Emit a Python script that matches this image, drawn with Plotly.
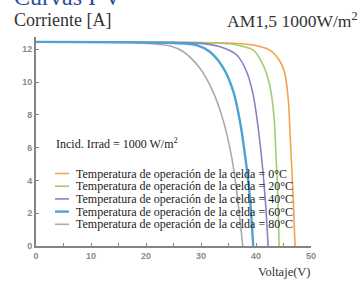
import plotly.graph_objects as go

# ---- data ----
temps = ["0°C", "20°C", "40°C", "60°C", "80°C"]
colors = ["#f3a24f", "#9fcf6e", "#8b80c4", "#4ba3d6", "#ababab"]
widths = [1.6, 1.6, 1.6, 2.4, 1.6]

v_0 = [0, 20, 35, 39.5, 42.5, 44.4, 45.3, 45.9, 46.2, 46.5, 46.8, 47.1]
i_0 = [12.45, 12.43, 12.38, 12.26, 11.95, 11.24, 10.43, 8.8, 6.77, 4.76, 2.7, 0]

v_20 = [0, 20, 33, 36.5, 39.5, 41.3, 42.5, 43.3, 43.6, 43.9, 44.2]
i_20 = [12.45, 12.43, 12.38, 12.26, 11.95, 11.04, 9.8, 7.8, 5.75, 3.7, 0]

v_40 = [0, 20, 30, 33.5, 36.5, 38.3, 39.5, 40.4, 41.2, 41.8, 42.2]
i_40 = [12.45, 12.43, 12.36, 12.15, 11.65, 10.63, 9.2, 7.2, 4.76, 2.3, 0]

v_60 = [0, 15, 25, 29.2, 31.6, 34.1, 35.9, 37.1, 38.0, 38.8, 39.5]
i_60 = [12.45, 12.43, 12.38, 12.26, 11.85, 10.84, 9.4, 7.58, 5.55, 3.3, 0]

v_80 = [0, 12, 20, 24.4, 26.8, 29.8, 32.2, 34.1, 35.6, 36.5, 37.6]
i_80 = [12.45, 12.43, 12.36, 12.2, 11.85, 10.84, 9.4, 7.58, 5.37, 3.3, 0]

x_ticks = [0, 10, 20, 30, 40, 50]
y_ticks = [0, 2, 4, 6, 8, 10, 12]

series = [(v_0, i_0), (v_20, i_20), (v_40, i_40), (v_60, i_60), (v_80, i_80)]
legend_label = "Temperatura de operación de la celda = "

# ---- layout geometry (pixels) ----
W, H = 362, 282
L, R, T, B = 36, 51, 37, 36
pw, ph = W - L - R, H - T - B


def px(xp):
    return (xp - L) / pw


def py(yp):
    return (H - B - yp) / ph


SERIF = "Liberation Serif, Times New Roman, serif"

fig = go.Figure()
order = [0, 1, 2, 4, 3]  # blue drawn last (on top)
for k in order:
    v, i = series[k]
    fig.add_trace(go.Scatter(
        x=v, y=i, mode="lines", name=legend_label + temps[k],
        line=dict(color=colors[k], width=widths[k], shape="spline", smoothing=0.8),
        showlegend=False, hoverinfo="skip", cliponaxis=False))

annotations = []
shapes = []

# manual legend
row_y = [173.5, 186.2, 198.9, 211.6, 224.3]
for k in range(5):
    shapes.append(dict(type="line", xref="paper", yref="paper",
                       x0=px(55), x1=px(69), y0=py(row_y[k]), y1=py(row_y[k]),
                       line=dict(color=colors[k], width=widths[k])))
    annotations.append(dict(xref="paper", yref="paper", x=px(74), y=py(row_y[k]),
                            xanchor="left", yanchor="middle", showarrow=False,
                            text=legend_label + temps[k],
                            font=dict(family=SERIF, size=12, color="#1a1a1a")))

annotations += [
    dict(xref="paper", yref="paper", x=px(54), y=py(143), xanchor="left", yanchor="middle",
         showarrow=False, text="Incid. Irrad = 1000 W/m<sup>2</sup>",
         font=dict(family=SERIF, size=12, color="#1a1a1a")),
    dict(xref="paper", yref="paper", x=px(12), y=py(-3.5), xanchor="left", yanchor="middle",
         showarrow=False, text="Curvas I-V",
         font=dict(family=SERIF, size=24, color="#2c4d9c")),
    dict(xref="paper", yref="paper", x=px(12), y=py(20.5), xanchor="left", yanchor="middle",
         showarrow=False, text="Corriente [A]",
         font=dict(family=SERIF, size=18, color="#333333")),
    dict(xref="paper", yref="paper", x=px(360), y=py(20.5), xanchor="right", yanchor="middle",
         showarrow=False, text="AM1,5 1000W/m<sup>2</sup>",
         font=dict(family=SERIF, size=17.5, color="#333333")),
    dict(xref="paper", yref="paper", x=px(313), y=py(272), xanchor="right", yanchor="middle",
         showarrow=False, text="Voltaje(V)",
         font=dict(family=SERIF, size=12.5, color="#333333")),
]

axis_common = dict(
    showgrid=False, zeroline=False, showline=True, linecolor="#858585", linewidth=2,
    ticks="inside", ticklen=3, tickwidth=1.2, tickcolor="#858585", automargin=False,
    tickfont=dict(family="Liberation Sans, Arial, sans-serif", size=9, color="#8a8a8a", weight="bold"),
)

fig.update_layout(
    width=W, height=H,
    margin=dict(l=L, r=R, t=T, b=B, pad=0),
    paper_bgcolor="white", plot_bgcolor="white",
    showlegend=False,
    annotations=annotations, shapes=shapes,
    xaxis=dict(range=[0, 50], tickvals=x_ticks, ticktext=[str(t) for t in x_ticks],
               minor=dict(ticks="inside", ticklen=3, dtick=5, tickcolor="#858585"),
               **axis_common),
    yaxis=dict(range=[0, 12.75], tickvals=y_ticks, ticktext=[str(t) for t in y_ticks],
               **axis_common),
)

fig.write_html(
    "out.html",
    config={"displayModeBar": False},
    post_script="document.body.style.margin='0';document.body.style.overflow='hidden';",
)
